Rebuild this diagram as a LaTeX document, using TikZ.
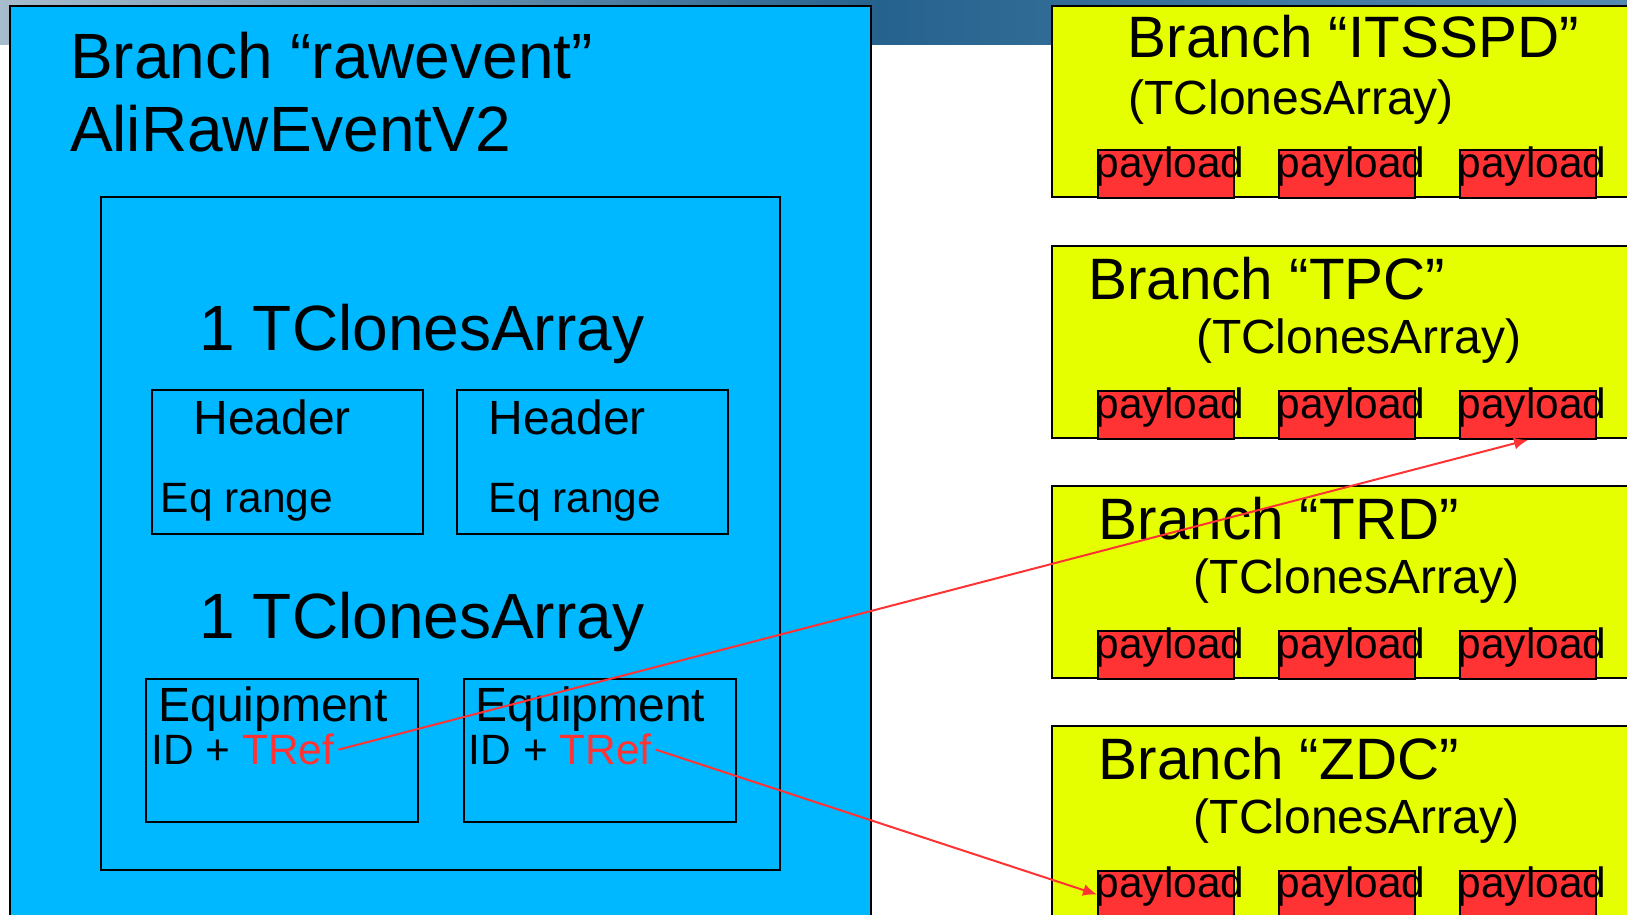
\documentclass[tikz,border=0pt]{standalone}
\usepackage{fontspec}
\setmainfont{Liberation Sans}
\usetikzlibrary{arrows.meta}
\definecolor{capri}{RGB}{0, 184, 255}
\definecolor{electriclime}{RGB}{230, 255, 0}
\definecolor{imperialred}{RGB}{255, 51, 51}
\definecolor{pewterblue}{RGB}{167, 188, 204}
\definecolor{lapis}{RGB}{38, 98, 142}
\definecolor{airforceblue}{RGB}{84, 138, 174}
% band runs light -> dark -> lighter, the dark part near the middle
\pgfdeclarehorizontalshading{slideband}{100bp}{color(0bp)=(pewterblue); color(25bp)=(pewterblue);
    color(52bp)=(lapis); color(75bp)=(airforceblue); color(100bp)=(airforceblue)}

\begin{document}
\begin{tikzpicture}[
        x=0.5pt, y=-0.5pt,
        outline/.style={draw=black, line width=1pt},
        rawbox/.style={outline, fill=capri},
        branchbox/.style={outline, fill=electriclime},
        lettering/.style={anchor=base west, inner sep=0pt},
        huge text/.style={lettering, font=\fontsize{32pt}{38pt}\selectfont},
        branch text/.style={lettering, font=\fontsize{29.2pt}{35pt}\selectfont},
        mid text/.style={lettering, font=\fontsize{24pt}{28pt}\selectfont},
        small text/.style={lettering, font=\fontsize{21.2pt}{25pt}\selectfont},
        payload/.style={
            outline, fill=imperialred, anchor=north west, inner sep=0pt,
            minimum width=68pt, text height=13.7pt, text depth=10.3pt,
            font=\fontsize{21.2pt}{25pt}\selectfont
        },
        tref/.style={draw=imperialred, line width=1pt, -{Latex[length=7pt,width=6pt]}}
    ]
    \useasboundingbox (0,0) rectangle (1627,915);
    \clip (0,0) rectangle (1627,915);

    % header band of the slide
    \shade[shading=slideband] (0,0) rectangle (1627,44.4);

    % branch "rawevent"
    \draw[rawbox] (10.4,6.2) rectangle (870.5,930);
    \node[huge text] (rawtitle) at (69.6,78.4) {Branch “rawevent”};
    \node[huge text] (rawclass) at (69.6,151.1) {AliRawEventV2};

    \draw[outline] (100.6,197.1) rectangle (780.3,869.5);
    \node[huge text] (headarray) at (199.2,350.3) {1 TClonesArray};
    \draw[outline] (151.5,390.1) rectangle (423.3,534.4);
    \draw[outline] (456.5,390.1) rectangle (728.4,534.4);
    \node[mid text] (hdr1) at (193,434.8) {Header};
    \node[mid text] (hdr2) at (488,434.8) {Header};
    \node[small text] (rng1) at (160.5,512.7) {Eq range};
    \node[small text] (rng2) at (488.5,512.7) {Eq range};

    \node[huge text] (eqarray) at (199.2,638.7) {1 TClonesArray};
    \draw[outline] (146.3,678.6) rectangle (418.2,821.8);
    \draw[outline] (463.8,678.6) rectangle (735.7,821.8);
    \node[mid text] (eq1) at (158,721.7) {Equipment};
    \node[mid text] (eq2) at (475.4,721.7) {Equipment};
    \node[small text] (eqid1) at (151,764.8) {ID + \textcolor{imperialred}{TRef}};
    \node[small text] (eqid2) at (468.5,764.8) {ID + \textcolor{imperialred}{TRef}};

    % branch "ITSSPD"
    \draw[branchbox] (1052.1,6.2) rectangle (1640,197.1);
    \node[branch text] (itstitle) at (1127.3,58) {Branch “ITSSPD”};
    \node[mid text] (itsarray) at (1128,114) {(TClonesArray)};
    \node[payload] (its1) at (1097,149.3) {\makebox[0pt]{\hspace{4pt}payload}};
    \node[payload] (its2) at (1278,149.3) {\makebox[0pt]{\hspace{4pt}payload}};
    \node[payload] (its3) at (1459,149.3) {\makebox[0pt]{\hspace{4pt}payload}};

    % branch "TPC"
    \draw[branchbox] (1052.1,245.9) rectangle (1640,437.9);
    \node[branch text] (tpctitle) at (1088,299.9) {Branch “TPC”};
    \node[mid text] (tpcarray) at (1195.6,353.9) {(TClonesArray)};
    \node[payload] (tpc1) at (1097,389.9) {\makebox[0pt]{\hspace{4pt}payload}};
    \node[payload] (tpc2) at (1278,389.9) {\makebox[0pt]{\hspace{4pt}payload}};
    \node[payload] (tpc3) at (1459,389.9) {\makebox[0pt]{\hspace{4pt}payload}};

    % branch "TRD"
    \draw[branchbox] (1052.1,485.6) rectangle (1640,677.6);
    \node[branch text] (trdtitle) at (1098.3,539.6) {Branch “TRD”};
    \node[mid text] (trdarray) at (1193.5,593.5) {(TClonesArray)};
    \node[payload] (trd1) at (1097,629.6) {\makebox[0pt]{\hspace{4pt}payload}};
    \node[payload] (trd2) at (1278,629.6) {\makebox[0pt]{\hspace{4pt}payload}};
    \node[payload] (trd3) at (1459,629.6) {\makebox[0pt]{\hspace{4pt}payload}};

    % branch "ZDC"
    \draw[branchbox] (1052.1,726.3) rectangle (1640,930);
    \node[branch text] (zdctitle) at (1098.3,779.3) {Branch “ZDC”};
    \node[mid text] (zdcarray) at (1193.5,833.3) {(TClonesArray)};
    \node[payload] (zdc1) at (1097,869.5) {\makebox[0pt]{\hspace{4pt}payload}};
    \node[payload] (zdc2) at (1278,869.5) {\makebox[0pt]{\hspace{4pt}payload}};
    \node[payload] (zdc3) at (1459,869.5) {\makebox[0pt]{\hspace{4pt}payload}};

    % references
    \draw[tref] ([xshift=2pt]eqid1.east) -- (tpc3.south);
    \draw[tref] ([xshift=2pt]eqid2.east) -- (zdc1.west);
\end{tikzpicture}
\end{document}
